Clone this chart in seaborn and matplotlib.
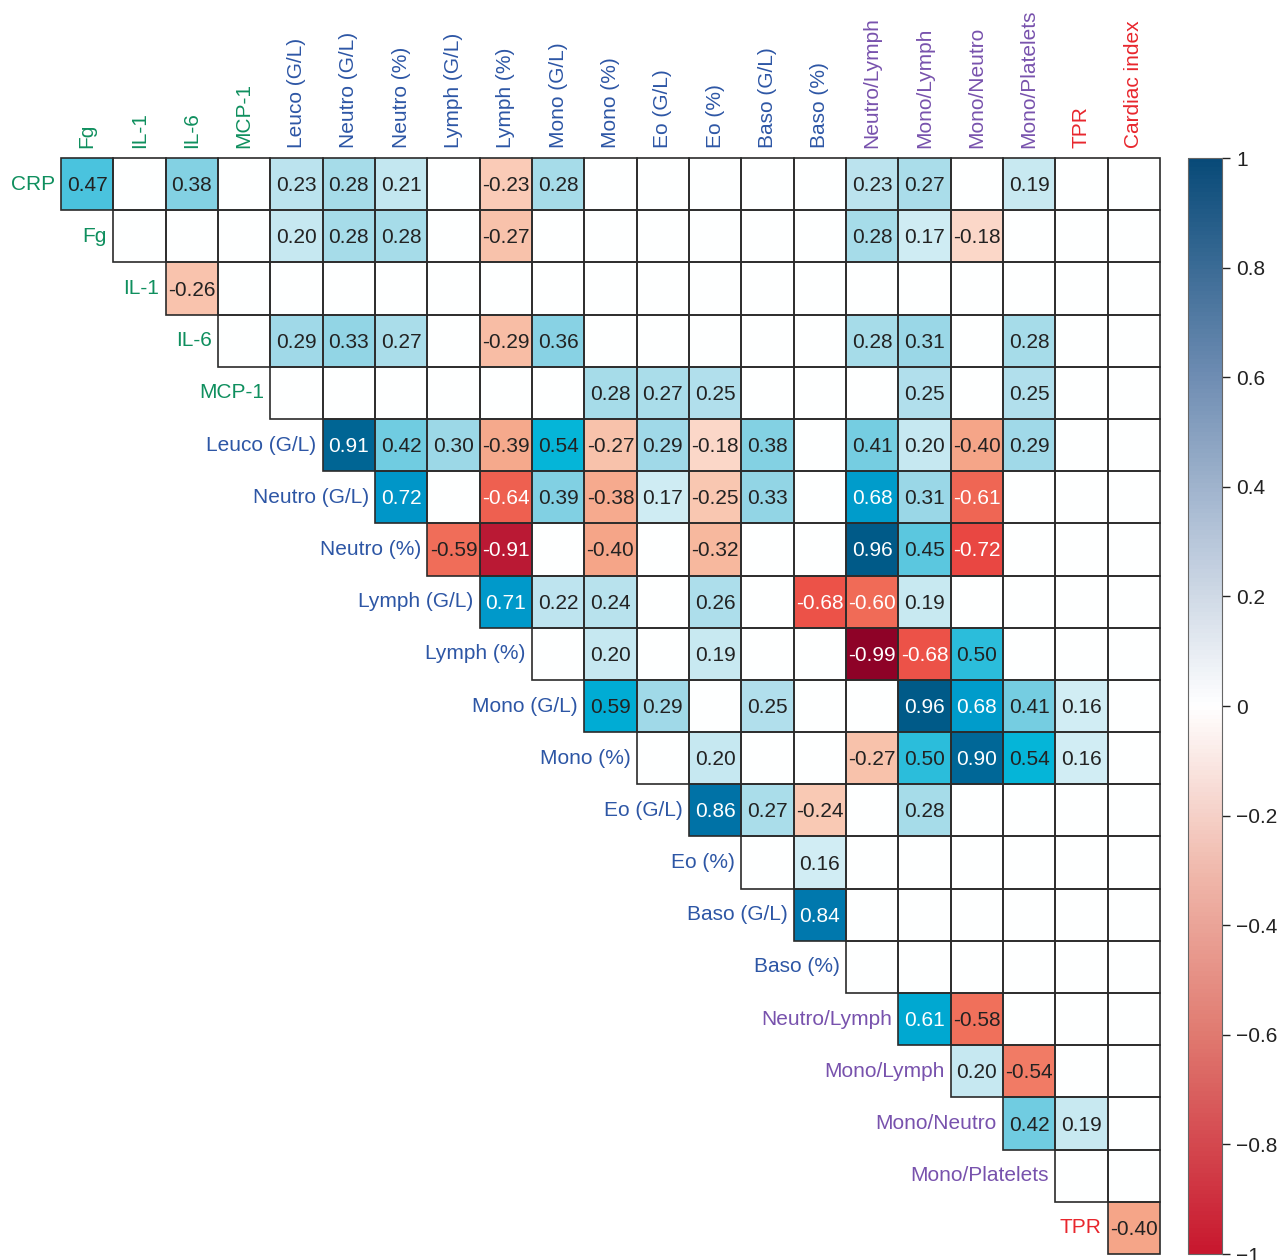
import numpy as np
import pandas as pd
import matplotlib
matplotlib.use('Agg')
import matplotlib.pyplot as plt
import seaborn as sns
from matplotlib.colors import LinearSegmentedColormap, Normalize
from matplotlib.cm import ScalarMappable
from matplotlib.patches import Rectangle

# variable groups (label colour by group)
inflam = ['CRP', 'Fg', 'IL-1', 'IL-6', 'MCP-1']
blood = ['Leuco (G/L)', 'Neutro (G/L)', 'Neutro (%)', 'Lymph (G/L)', 'Lymph (%)',
         'Mono (G/L)', 'Mono (%)', 'Eo (G/L)', 'Eo (%)', 'Baso (G/L)', 'Baso (%)']
ratios = ['Neutro/Lymph', 'Mono/Lymph', 'Mono/Neutro', 'Mono/Platelets']
hemo = ['TPR', 'Cardiac index']

variables = inflam + blood + ratios + hemo
row_names = variables[:-1]
col_names = variables[1:]

# significant correlations; row i starts at column i (None = not significant)
N = None
corr_rows = [
    [0.47, N, 0.38, N, 0.23, 0.28, 0.21, N, -0.23, 0.28, N, N, N, N, N, 0.23, 0.27, N, 0.19, N, N],
    [N, N, N, 0.20, 0.28, 0.28, N, -0.27, N, N, N, N, N, N, 0.28, 0.17, -0.18, N, N, N],
    [-0.26] + [N] * 18,
    [N, 0.29, 0.33, 0.27, N, -0.29, 0.36, N, N, N, N, N, 0.28, 0.31, N, 0.28, N, N],
    [N] * 6 + [0.28, 0.27, 0.25, N, N, N, 0.25, N, 0.25, N, N],
    [0.91, 0.42, 0.30, -0.39, 0.54, -0.27, 0.29, -0.18, 0.38, N, 0.41, 0.20, -0.40, 0.29, N, N],
    [0.72, N, -0.64, 0.39, -0.38, 0.17, -0.25, 0.33, N, 0.68, 0.31, -0.61, N, N, N],
    [-0.59, -0.91, N, -0.40, N, -0.32, N, N, 0.96, 0.45, -0.72, N, N, N],
    [0.71, 0.22, 0.24, N, 0.26, N, -0.68, -0.60, 0.19, N, N, N, N],
    [N, 0.20, N, 0.19, N, N, -0.99, -0.68, 0.50, N, N, N],
    [0.59, 0.29, N, 0.25, N, N, 0.96, 0.68, 0.41, 0.16, N],
    [N, 0.20, N, N, -0.27, 0.50, 0.90, 0.54, 0.16, N],
    [0.86, 0.27, -0.24, N, 0.28, N, N, N, N],
    [N, 0.16, N, N, N, N, N, N],
    [0.84, N, N, N, N, N, N],
    [N, N, N, N, N, N],
    [0.61, -0.58, N, N, N],
    [0.20, -0.54, N, N],
    [0.42, 0.19, N],
    [N, N],
    [-0.40],
]

group_colors = {}
for names, c in [(inflam, '#0f8f5e'), (blood, '#2d56a5'), (ratios, '#7852ad'), (hemo, '#e8262d')]:
    for nm in names:
        group_colors[nm] = c

n = len(row_names)
mat = np.full((n, n), np.nan)
for i, vals in enumerate(corr_rows):
    for k, v in enumerate(vals):
        if v is not None:
            mat[i, i + k] = v
df = pd.DataFrame(mat, index=row_names, columns=col_names)
mask = np.tril(np.ones((n, n), dtype=bool), k=-1)

# colours used by the cells
nodes = [(-1.0, '#8a0026'), (-0.9, '#c21d36'), (-0.72, '#ea4842'), (-0.6, '#f06b57'),
         (-0.4, '#f5a689'), (-0.25, '#f9c6b0'), (-0.15, '#fce0d4'), (0.0, '#ffffff'),
         (0.15, '#d4eef5'), (0.22, '#c0e5ef'), (0.3, '#9dd8e7'), (0.4, '#7dcfe2'),
         (0.47, '#4ec4de'), (0.55, '#00b4d8'), (0.65, '#00a2ce'), (0.72, '#0097c9'),
         (0.86, '#0074a9'), (0.91, '#006695'), (0.96, '#005a88'), (1.0, '#004e7c')]
cell_cmap = LinearSegmentedColormap.from_list('cells', [((v + 1) / 2, c) for v, c in nodes])

bar_nodes = [(-1.0, '#c8172e'), (-0.6, '#e07a70'), (-0.3, '#f0b9ac'), (0.0, '#ffffff'),
             (0.3, '#b8c7da'), (0.6, '#6f8db3'), (1.0, '#084a78')]
bar_cmap = LinearSegmentedColormap.from_list('bar', [((v + 1) / 2, c) for v, c in bar_nodes])

sns.set_style('white')
plt.rcParams['font.family'] = ['Liberation Sans', 'DejaVu Sans']

W, H = 1281, 1260
fig = plt.figure(figsize=(W / 100, H / 100), dpi=100)
ax = fig.add_axes([61 / W, 6 / H, 1099 / W, 1096 / H])

sns.heatmap(df.fillna(0), mask=mask, cmap=cell_cmap, vmin=-1, vmax=1, cbar=False,
            linewidths=0, ax=ax, xticklabels=True, yticklabels=False)

# cell borders only for the upper triangle
for i in range(n):
    for j in range(i, n):
        ax.add_patch(Rectangle((j, i), 1, 1, fill=False, edgecolor='#2b2b2b',
                               linewidth=1.2, clip_on=False))

ax.xaxis.tick_top()
ax.set_xticks(np.arange(n) + 0.5)
ax.set_xticklabels(col_names, rotation=90, fontsize=15)
ax.tick_params(axis='x', length=0, pad=7)
for lab in ax.get_xticklabels():
    lab.set_color(group_colors[lab.get_text()])
ax.set_ylabel('')
ax.set_xlabel('')

for i, name in enumerate(row_names):
    ax.text(i - 0.12, i + 0.5, name, ha='right', va='center', fontsize=15,
            color=group_colors[name])
    for j in range(i, n):
        v = df.iat[i, j]
        if np.isnan(v):
            continue
        tc = 'white' if abs(v) >= 0.6 else '#222222'
        ax.text(j + 0.5, i + 0.53, f'{v:.2f}', ha='center', va='center',
                fontsize=15, color=tc)

cax = fig.add_axes([1188 / W, 6 / H, 34 / W, 1096 / H])
cb = fig.colorbar(ScalarMappable(norm=Normalize(-1, 1), cmap=bar_cmap), cax=cax)
ticks = [-1, -0.8, -0.6, -0.4, -0.2, 0, 0.2, 0.4, 0.6, 0.8, 1]
cb.set_ticks(ticks)
cb.set_ticklabels([f'{t:g}'.replace('-', '\u2212') for t in ticks])
cb.outline.set_edgecolor('#666666')
cb.outline.set_linewidth(0.8)
cax.tick_params(length=6, width=1, labelsize=15, pad=4, colors='#222222')

fig.savefig('out.png', dpi=100)
